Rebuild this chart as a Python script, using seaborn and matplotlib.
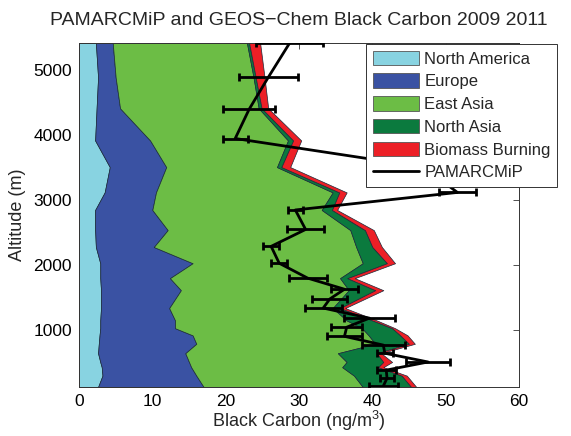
import numpy as np
import pandas as pd
import matplotlib
matplotlib.use("Agg")
import matplotlib.pyplot as plt
import seaborn as sns
from matplotlib.patches import Patch
from matplotlib.lines import Line2D

# ---- model profile (GEOS-Chem), ng/m3 per source region ----
altitude = [5420, 4890, 4415, 3920, 3510, 3120, 2850, 2540, 2280, 2030, 1800,
            1615, 1340, 1150, 1030, 920, 790, 645, 510, 430, 300, 125]
north_america = [2.3, 2.6, 2.4, 2.2, 4.2, 3.5, 2.2, 2.2, 2.3, 2.9, 2.9,
                 3.0, 3.0, 2.9, 2.9, 2.8, 2.7, 2.6, 2.9, 3.1, 3.2, 2.6]
europe = [2.3, 2.4, 3.2, 7.5, 7.7, 7.0, 7.8, 9.9, 7.9, 12.6, 9.5,
          10.9, 9.3, 10.2, 10.2, 12.7, 13.3, 11.9, 12.1, 12.2, 12.8, 14.4]
east_asia = [18.3, 18.8, 18.9, 18.8, 15.1, 24.1, 23.1, 24.9, 27.6, 23.2, 23.2,
             22.9, 22.3, 23.4, 25.5, 24.0, 24.4, 20.8, 21.5, 20.6, 21.5, 21.7]
north_asia = [0.3, 0.3, 0.4, 0.7, 0.6, 0.9, 1.4, 2.0, 2.2, 3.3, 1.0,
              3.6, 1.0, 3.5, 4.1, 4.3, 4.6, 5.3, 5.0, 4.9, 6.5, 6.6]
biomass_burning = [1.5, 1.2, 0.9, 1.1, 1.2, 1.0, 0.7, 1.2, 1.3, 1.1, 1.0,
                   1.1, 0.7, 0.6, 0.4, 1.0, 0.8, 0.6, 1.2, 0.7, 0.7, 0.7]

# ---- PAMARCMiP observations ----
obs_altitude = [5415, 4890, 4400, 3950, 3510, 3120, 2850, 2550, 2290, 2030, 1800,
                1630, 1480, 1340, 1185, 1045, 905, 770, 645, 510, 385, 260, 140]
obs_bc = [28.7, 25.8, 23.2, 21.3, 47.0, 51.6, 29.5, 30.9, 26.2, 27.3, 31.2,
          36.2, 34.2, 33.3, 39.6, 36.5, 36.2, 41.5, 41.7, 47.6, 41.9, 42.0, 41.5]
obs_err = [4.6, 4.0, 3.5, 1.7, 4.0, 2.5, 1.0, 2.5, 1.1, 1.1, 2.6,
           1.9, 2.4, 2.5, 3.5, 2.1, 2.4, 2.9, 1.1, 3.0, 1.3, 1.0, 2.0]

series_names = ["North America", "Europe", "East Asia", "North Asia", "Biomass Burning"]
colors = ["#88D3E1", "#3A52A3", "#6CBD45", "#0B7A3E", "#EC1F26"]

sns.set_theme(style="white")
plt.rcParams["font.family"] = ["Liberation Sans", "DejaVu Sans"]
plt.rcParams["mathtext.fontset"] = "custom"
plt.rcParams["mathtext.rm"] = "Liberation Sans"

fig = plt.figure(figsize=(5.71, 4.36), dpi=100)
ax = fig.add_axes([79/571, 49/436, 440/571, 344/436])

model = pd.DataFrame({"alt": altitude, "North America": north_america, "Europe": europe,
                      "East Asia": east_asia, "North Asia": north_asia,
                      "Biomass Burning": biomass_burning})
alt = model["alt"].to_numpy()
left = np.zeros(len(alt))
for name, col in zip(series_names, colors):
    right = left + model[name].to_numpy()
    ax.fill_betweenx(alt, left, right, facecolor=col, edgecolor="#1a2a3a", linewidth=0.5, zorder=1)
    left = right

obs = pd.DataFrame({"alt": obs_altitude, "bc": obs_bc, "err": obs_err})
sns.lineplot(data=obs, x="bc", y="alt", orient="y", sort=False, color="black",
             linewidth=2.0, ax=ax, zorder=3, estimator=None)
ax.errorbar(obs["bc"], obs["alt"], xerr=obs["err"], fmt="none", ecolor="black",
            elinewidth=2.0, capsize=3, capthick=2.0, zorder=3)

ax.set_xlim(0, 60)
ax.set_ylim(125, 5420)
ax.set_xticks([0, 10, 20, 30, 40, 50, 60])
ax.set_yticks([1000, 2000, 3000, 4000, 5000])
ax.tick_params(direction="in", length=4, width=0.6, top=True, right=True,
               labelsize=12.5, colors="#333333", labelcolor="black", pad=5)
for s in ax.spines.values():
    s.set_visible(True)
    s.set_color("#333333")
    s.set_linewidth(0.7)

ax.set_xlabel("Black Carbon (ng/m$^3$)", fontsize=13, labelpad=0)
ax.set_ylabel("Altitude (m)", fontsize=13, labelpad=5)
ax.set_title("PAMARCMiP and GEOS\u2212Chem Black Carbon 2009 2011", fontsize=14, pad=13)

handles = [Patch(facecolor=c, edgecolor="#555555", linewidth=0.6) for c in colors]
handles.append(Line2D([0], [0], color="black", linewidth=2.0))
leg = fig.legend(handles, series_names + ["PAMARCMiP"], loc="upper left",
                 bbox_to_anchor=(366/571, 1 - 44/436), fontsize=12, frameon=True,
                 fancybox=False, edgecolor="#333333", framealpha=1,
                 handlelength=2.8, handleheight=0.95, handletextpad=0.3,
                 labelspacing=0.41, borderpad=0.4, borderaxespad=0)
leg.get_frame().set_linewidth(0.7)

fig.savefig("out.png", dpi=100)
